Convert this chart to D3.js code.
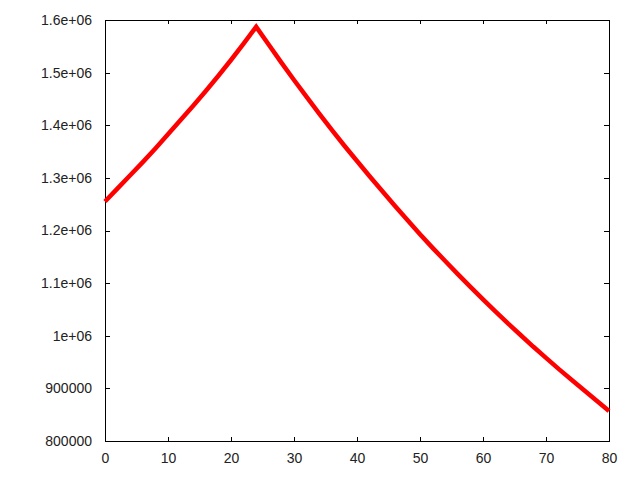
<!DOCTYPE html>
<html>
<head>
<meta charset="utf-8">
<script src="https://cdn.jsdelivr.net/npm/d3@7"></script>
<style>
  body { margin: 0; background: #fff; }
  text { font-family: "Liberation Sans", Arial, sans-serif; font-size: 14px; fill: #222; }
</style>
</head>
<body>
<script>
// values
var xs = [0, 2, 4, 6, 8, 10, 12, 14, 16, 18, 20, 22, 24,
          26, 28, 30, 32, 34, 36, 38, 40, 42, 44, 46, 48, 50,
          52, 54, 56, 58, 60, 62, 64, 66, 68, 70, 72, 74, 76, 78, 80];
var ys = [1255000, 1280000, 1305000, 1330000, 1356000, 1383000, 1410000, 1437000, 1465000, 1494000, 1524000, 1555000, 1587000,
          1553000, 1519000, 1486000, 1454000, 1422000, 1391000, 1361000, 1332000, 1303000, 1275000, 1247000, 1220000, 1193000,
          1167000, 1142000, 1117000, 1093000, 1069000, 1046000, 1023000, 1001000, 979000, 958000, 937000, 917000, 897000, 877000, 857000];
var xTicks = [0, 10, 20, 30, 40, 50, 60, 70, 80];
var yTicks = [800000, 900000, 1000000, 1100000, 1200000, 1300000, 1400000, 1500000, 1600000];
var yTickLabels = ["800000", "900000", "1e+06", "1.1e+06", "1.2e+06", "1.3e+06", "1.4e+06", "1.5e+06", "1.6e+06"];

var W = 640, H = 480;
// plot box (window.top is read-only, so use other names)
var plotL = 105, plotR = 609, plotT = 20, plotB = 441;

var svg = d3.select("body").append("svg")
            .attr("width", W)
            .attr("height", H);

var x = d3.scaleLinear().domain([0, 80]).range([plotL, plotR]);
var y = d3.scaleLinear().domain([800000, 1600000]).range([plotB, plotT]);

var data = xs.map(function(v, i) { return {x: v, y: ys[i]}; });

// axes, ticks pointing inward (mirrored on top / right)
var xAxis = d3.axisBottom(x).tickValues(xTicks).tickSize(-4).tickPadding(12);
var xTop = d3.axisTop(x).tickValues(xTicks).tickSize(-4).tickFormat("");
var yAxis = d3.axisLeft(y).tickValues(yTicks).tickSize(-5).tickPadding(13)
              .tickFormat(function(d, i) { return yTickLabels[i]; });
var yRight = d3.axisRight(y).tickValues(yTicks).tickSize(-5).tickFormat("");

svg.append("g").attr("transform", "translate(0," + plotB + ")").call(xAxis);
svg.append("g").attr("transform", "translate(0," + plotT + ")").call(xTop);
svg.append("g").attr("transform", "translate(" + plotL + ",0)").call(yAxis);
svg.append("g").attr("transform", "translate(" + plotR + ",0)").call(yRight);

svg.selectAll(".domain").remove();
svg.selectAll(".tick line").attr("stroke", "#000").attr("shape-rendering", "crispEdges");
svg.selectAll(".tick text").attr("fill", "#222")
   .style("font-family", "'Liberation Sans', Arial, sans-serif").style("font-size", "14px");

// frame
svg.append("rect")
   .attr("x", plotL)
   .attr("y", plotT)
   .attr("width", plotR - plotL)
   .attr("height", plotB - plotT)
   .attr("fill", "none")
   .attr("stroke", "#000")
   .attr("shape-rendering", "crispEdges");

// straight segments so the peak stays sharp
var line = d3.line()
             .x(function(d) { return x(d.x); })
             .y(function(d) { return y(d.y); });

svg.append("path")
   .datum(data)
   .attr("d", line)
   .attr("fill", "none")
   .attr("stroke", "#ff0000")
   .attr("stroke-width", 4.5)
   .attr("stroke-linejoin", "miter");
</script>
</body>
</html>
